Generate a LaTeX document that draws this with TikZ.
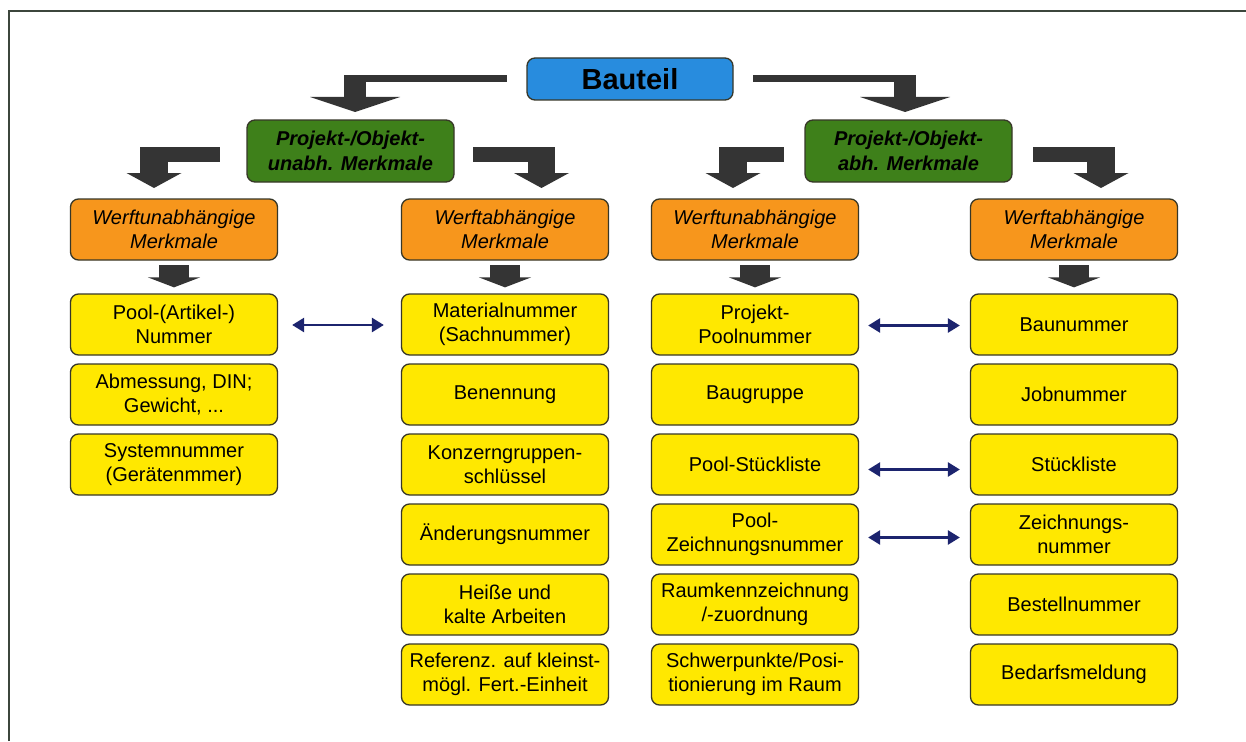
\documentclass[tikz,border=0pt]{standalone}
\usepackage{fontspec}
\setmainfont{Liberation Sans}
\usetikzlibrary{arrows.meta,calc}

\definecolor{boxline}{RGB}{55,55,40}
\definecolor{ybox}{RGB}{255,232,0}
\definecolor{obox}{RGB}{247,150,28}
\definecolor{gbox}{RGB}{62,128,26}
\definecolor{bbox}{RGB}{40,140,222}
\definecolor{thickgray}{RGB}{52,52,52}
\definecolor{navyline}{RGB}{28,36,110}
\definecolor{framecol}{RGB}{60,70,60}

% bent block arrow: #1 bar end x, #2 bar top y, #3 bar thickness,
% #4 stem centre x, #5 stem width, #6 head base y, #7 head width, #8 tip y
\newcommand\bentarrow[8]{%
  \fill[thickgray] (#1,#2) rectangle (#4,#2+#3);
  \fill[thickgray] (#4-#5/2,#2) rectangle (#4+#5/2,#6+1);
  \fill[thickgray] (#4-#7/2,#6) -- (#4+#7/2,#6) -- (#4,#8) -- cycle;}

\begin{document}
\begin{tikzpicture}[x=1pt,y=-1pt,
  box/.style={draw=boxline, line width=1.3pt, rounded corners=8pt,
    minimum width=207pt, inner sep=0pt, align=center, text=black},
  yel/.style={box, fill=ybox, minimum height=61pt,
    font=\fontsize{20}{24}\selectfont},
  org/.style={box, fill=obox, minimum height=61pt,
    font=\fontsize{20}{24}\selectfont\itshape},
  grn/.style={box, fill=gbox, minimum height=62pt,
    font=\fontsize{20}{24.5}\selectfont\bfseries\itshape},
  blu/.style={box, fill=bbox, minimum width=206pt, minimum height=42pt,
    font=\fontsize{29}{32}\selectfont\bfseries},
  dnarrow/.style={draw=thickgray, line width=30pt,
    -{Triangle[length=10pt,width=52pt]}},
  dblarrow/.style={draw=navyline, line width=2.6pt,
    {Triangle[length=12pt,width=14pt]}-{Triangle[length=12pt,width=14pt]}}
]
\fill[white] (0,0) rectangle (1246,741);
\useasboundingbox (0,0) rectangle (1246,741);

% frame
\draw[framecol, line width=2pt] (9,741) -- (9,11) -- (1246,11);

% top level
\node[blu] (bauteil) at (630,79) {Bauteil};
\node[grn] (gl) at (350.5,151) {Projekt-/Objekt-\\unabh. Merkmale};
\node[grn] (gr) at (908.5,151) {Projekt-/Objekt-\\abh. Merkmale};

% second level
\node[org] (o1) at (174,229.5) {Werftunabhängige\\Merkmale};
\node[org] (o2) at (505,229.5) {Werftabhängige\\Merkmale};
\node[org] (o3) at (755,229.5) {Werftunabhängige\\Merkmale};
\node[org] (o4) at (1074,229.5) {Werftabhängige\\Merkmale};

% column 1
\node[yel] (y11) at (174,324.5) {Pool-(Artikel-)\\Nummer};
\node[yel] (y12) at (174,394.5) {Abmessung, DIN;\\Gewicht, ...};
\node[yel] (y13) at (174,464.5) {Systemnummer\\(Gerätenmmer)};

% column 2
\node[yel] (y21) at (505,324.5) {Materialnummer\\(Sachnummer)};
\node[yel] (y22) at (505,394.5) {Benennung};
\node[yel] (y23) at (505,464.5) {Konzerngruppen-\\schlüssel};
\node[yel] (y24) at (505,534.5) {Änderungsnummer};
\node[yel] (y25) at (505,604.5) {Heiße und\\kalte Arbeiten};
\node[yel] (y26) at (505,674.5) {Referenz. auf kleinst-\\mögl. Fert.-Einheit};

% column 3
\node[yel] (y31) at (755,324.5) {Projekt-\\Poolnummer};
\node[yel] (y32) at (755,394.5) {Baugruppe};
\node[yel] (y33) at (755,464.5) {Pool-Stückliste};
\node[yel] (y34) at (755,534.5) {Pool-\\Zeichnungsnummer};
\node[yel] (y35) at (755,604.5) {Raumkennzeichnung\\/-zuordnung};
\node[yel] (y36) at (755,674.5) {Schwerpunkte/Posi-\\tionierung im Raum};

% column 4
\node[yel] (y41) at (1074,324.5) {Baunummer};
\node[yel] (y42) at (1074,394.5) {Jobnummer};
\node[yel] (y43) at (1074,464.5) {Stückliste};
\node[yel] (y44) at (1074,534.5) {Zeichnungs-\\nummer};
\node[yel] (y45) at (1074,604.5) {Bestellnummer};
\node[yel] (y46) at (1074,674.5) {Bedarfsmeldung};

% bent block arrows
\bentarrow{507}{75}{7}{355}{22}{97}{90}{112}
\bentarrow{753}{75}{7}{905}{22}{97}{90}{112}
\bentarrow{220}{147}{15}{154}{28}{173}{55}{188}
\bentarrow{473}{147}{15}{541.5}{27}{173}{55}{188}
\bentarrow{784}{147}{15}{733}{28}{173}{55}{188}
\bentarrow{1033}{147}{15}{1101}{28}{173}{55}{188}

% short down arrows
\foreach \c in {1,2,3,4}
  \draw[dnarrow] ($(o\c.south)+(0,4.5)$) -- ($(y\c1.north)+(0,-6)$);

% correspondences
\draw[dblarrow] ($(y11.east)+(14,0.5)$) -- ($(y21.west)+(-17,0.5)$);
\draw[dblarrow] ($(y31.east)+(9,1)$) -- ($(y41.west)+(-10,1)$);
\draw[dblarrow] ($(y33.east)+(9,5)$) -- ($(y43.west)+(-10,5)$);
\draw[dblarrow] ($(y34.east)+(9,3)$) -- ($(y44.west)+(-10,3)$);
\end{tikzpicture}
\end{document}
